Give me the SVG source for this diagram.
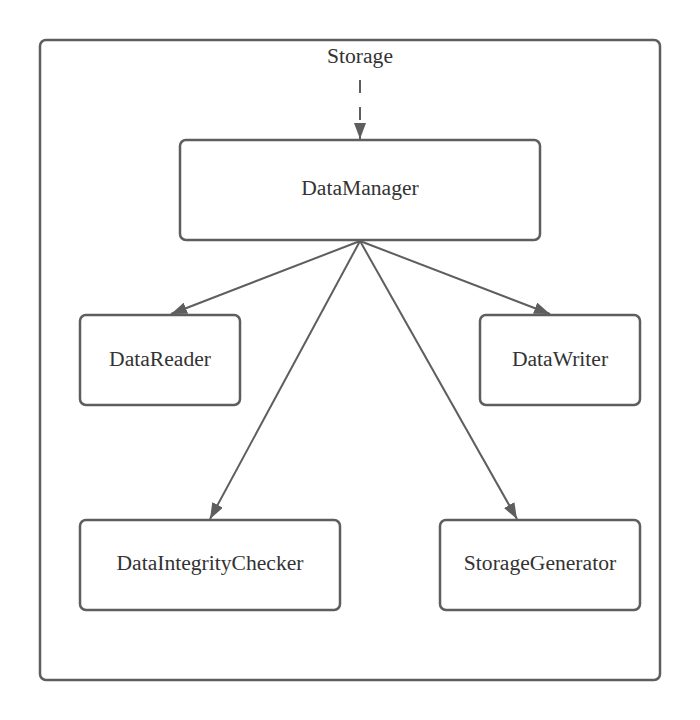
<svg xmlns="http://www.w3.org/2000/svg" width="700" height="720" viewBox="0 0 700 720">
<defs>
<style>
.box{fill:#fff;stroke:#5e5e5e;stroke-width:2.5}
.lbl{font-family:"Liberation Serif","Times New Roman",serif;font-size:21.6px;fill:#333;text-anchor:middle}
.edge{stroke:#5e5e5e;stroke-width:2;fill:none}
</style>
<marker id="ah2" viewBox="0 0 16 12" refX="16" refY="6" markerWidth="16" markerHeight="12" markerUnits="userSpaceOnUse" orient="auto">
<path d="M0,0 L16,6 L0,12 z" fill="#5e5e5e"/>
</marker>
</defs>
<rect width="700" height="720" fill="#fff"/>
<g id="storage">
<rect class="box" x="40" y="40" width="620" height="640" rx="6"/>
<text class="lbl" x="360" y="63">Storage</text>
</g>
<g id="DataManager">
<rect class="box" x="180" y="140" width="360" height="100" rx="6"/>
<text class="lbl" x="360" y="195">DataManager</text>
</g>
<g id="DataReader">
<rect class="box" x="80" y="315" width="160" height="90" rx="6"/>
<text class="lbl" x="160" y="366">DataReader</text>
</g>
<g id="DataWriter">
<rect class="box" x="480" y="315" width="160" height="90" rx="6"/>
<text class="lbl" x="560" y="366">DataWriter</text>
</g>
<g id="DataIntegrityChecker">
<rect class="box" x="80" y="520" width="260" height="90" rx="6"/>
<text class="lbl" x="210" y="570">DataIntegrityChecker</text>
</g>
<g id="StorageGenerator">
<rect class="box" x="440" y="520" width="200" height="90" rx="6"/>
<text class="lbl" x="540" y="570">StorageGenerator</text>
</g>
<g id="connectors">
<path class="edge" d="M360,80 L360,139" stroke-dasharray="13,14" marker-end="url(#ah2)"/>
<path class="edge" d="M360,241 L171,314" marker-end="url(#ah2)"/>
<path class="edge" d="M360,241 L550,314" marker-end="url(#ah2)"/>
<path class="edge" d="M360,241 L210,519" marker-end="url(#ah2)"/>
<path class="edge" d="M360,241 L517,519" marker-end="url(#ah2)"/>
</g>
</svg>
